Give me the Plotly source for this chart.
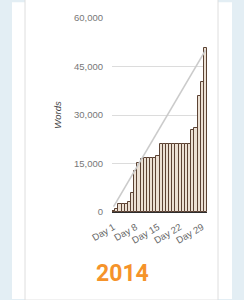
import plotly.graph_objects as go

days = ["Day 1", "Day 2", "Day 3", "Day 4", "Day 5", "Day 6", "Day 7", "Day 8", "Day 9", "Day 10",
        "Day 11", "Day 12", "Day 13", "Day 14", "Day 15", "Day 16", "Day 17", "Day 18", "Day 19", "Day 20",
        "Day 21", "Day 22", "Day 23", "Day 24", "Day 25", "Day 26", "Day 27", "Day 28", "Day 29", "Day 30"]
words = [400, 1000, 2600, 2600, 2600, 3000, 6000, 12600, 15300, 16500,
         16800, 16800, 16800, 16800, 17200, 21100, 21100, 21100, 21100, 21100,
         21100, 21100, 21100, 21100, 21100, 25500, 25900, 36000, 40100, 50600]
goal = [1667, 3333, 5000, 6667, 8333, 10000, 11667, 13333, 15000, 16667,
        18333, 20000, 21667, 23333, 25000, 26667, 28333, 30000, 31667, 33333,
        35000, 36667, 38333, 40000, 41667, 43333, 45000, 46667, 48333, 50000]
tick_days = ["Day 1", "Day 8", "Day 15", "Day 22", "Day 29"]
y_ticks = [0, 15000, 30000, 45000, 60000]
year = "2014"

W, H = 244, 300
L, R, T, B = 112, 207, 16, 212

def px(x):
    return (x - L) / (R - L)

def py(y):
    return (B - y) / (B - T)

fig = go.Figure()
fig.add_trace(go.Bar(x=days, y=words,
                     marker=dict(color="#ece1d4", line=dict(color="#5c4334", width=1)),
                     showlegend=False))
fig.add_trace(go.Scatter(x=days, y=goal, mode="lines",
                         line=dict(color="#cbcbcb", width=1.6), showlegend=False))

shapes = [
    dict(type="rect", xref="paper", yref="paper", x0=px(12), x1=px(232), y0=py(300), y1=py(0),
         fillcolor="white", line=dict(width=0), layer="below"),
    dict(type="rect", xref="paper", yref="paper", x0=px(25), x1=px(218), y0=py(301), y1=py(-5),
         fillcolor="white", line=dict(color="#dedede", width=1), layer="below"),
]

fig.update_layout(
    width=W, height=H,
    margin=dict(l=L, r=W - R, t=T, b=H - B, pad=0),
    paper_bgcolor="#e3eef4",
    plot_bgcolor="rgba(0,0,0,0)",
    bargap=0,
    shapes=shapes,
    font=dict(family="Liberation Sans, Arial, sans-serif", color="#777777", size=9.5),
    xaxis=dict(type="category", tickvals=tick_days, ticktext=tick_days, tickangle=-30,
               showgrid=False, showline=True, linecolor="#2e2e2e", linewidth=1.2,
               ticks="", ticklabelstandoff=5, tickfont=dict(size=9.5, color="#666666")),
    yaxis=dict(range=[0, 60000], tickvals=y_ticks, tickformat=",", showgrid=True,
               gridcolor="#dcdcdc", gridwidth=1, zeroline=False, showline=False,
               ticks="", ticklabelstandoff=8,
               title=dict(text="<i>Words</i>", font=dict(size=9.5, color="#444444"), standoff=10)),
    annotations=[dict(text="<b>" + year + "</b>", xref="paper", yref="paper",
                      x=px(122.5), y=py(274), xanchor="center", yanchor="middle",
                      showarrow=False, font=dict(family="Roboto", size=23, color="#f5932a"))],
)

fig.write_html("out.html")
